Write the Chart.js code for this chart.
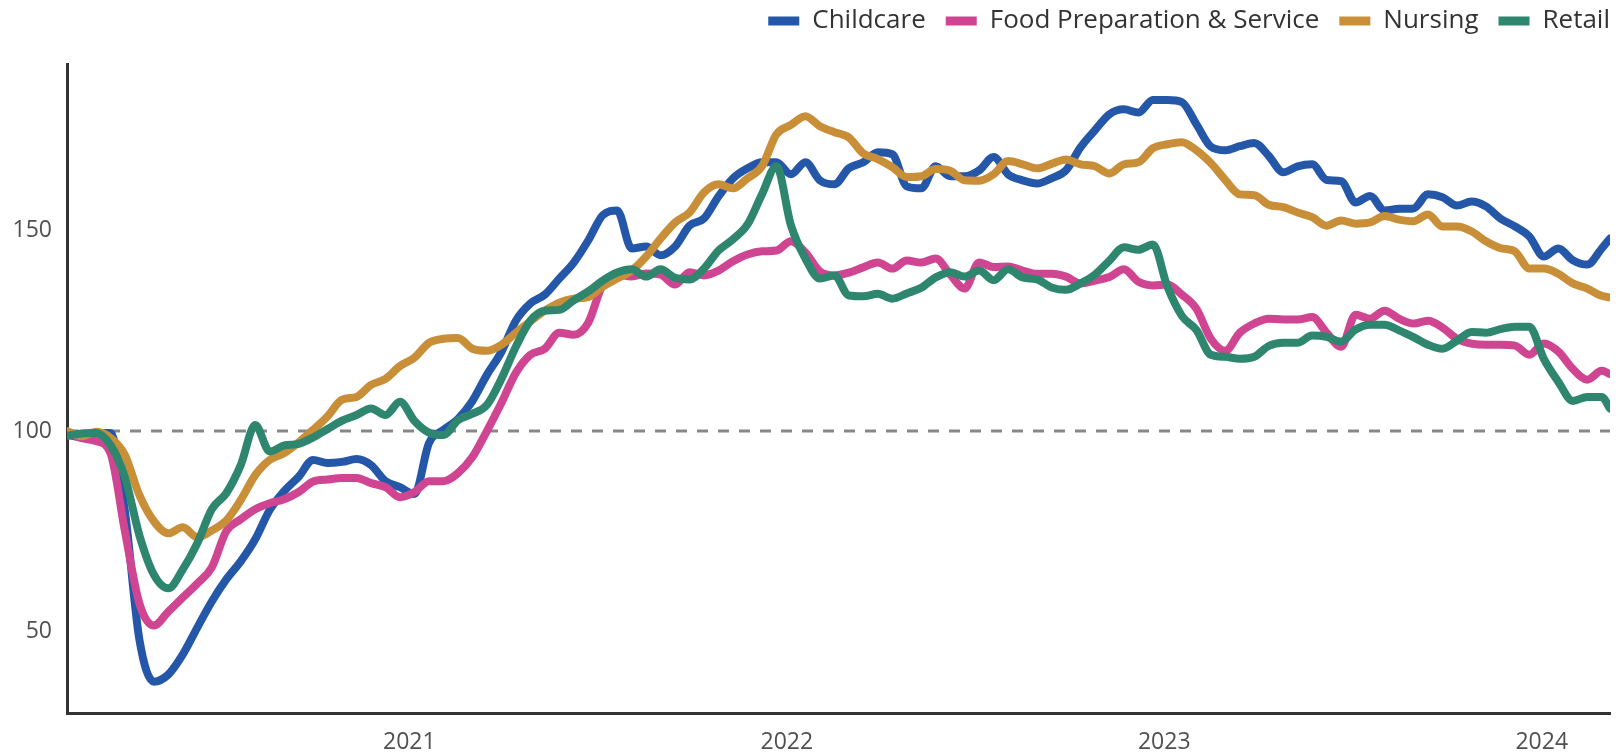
<!DOCTYPE html>
<html>
<head>
<meta charset="utf-8">
<script src="https://cdn.jsdelivr.net/npm/chart.js@4.4.1/dist/chart.umd.min.js"></script>
<style>
  html, body { margin: 0; padding: 0; background: #fff; }
  #wrap { width: 1616px; height: 754px; }
</style>
</head>
<body>
<div id="wrap"><canvas id="grafico" width="1616" height="754"></canvas></div>
<script>
// ---------------- DADOS ----------------
const dates = [
  "2020-02-05","2020-02-19","2020-03-04","2020-03-18","2020-04-01","2020-04-15","2020-04-29","2020-05-13","2020-05-27","2020-06-10",
  "2020-06-24","2020-07-08","2020-07-22","2020-08-05","2020-08-19","2020-09-02","2020-09-16","2020-09-30","2020-10-14","2020-10-28",
  "2020-11-11","2020-11-25","2020-12-09","2020-12-23","2021-01-06","2021-01-20","2021-02-03","2021-02-17","2021-03-03","2021-03-17",
  "2021-03-31","2021-04-14","2021-04-28","2021-05-12","2021-05-26","2021-06-09","2021-06-23","2021-07-07","2021-07-21","2021-08-04",
  "2021-08-18","2021-09-01","2021-09-15","2021-09-29","2021-10-13","2021-10-27","2021-11-10","2021-11-24","2021-12-08","2021-12-22",
  "2022-01-05","2022-01-19","2022-02-02","2022-02-16","2022-03-02","2022-03-16","2022-03-30","2022-04-13","2022-04-27","2022-05-11",
  "2022-05-25","2022-06-08","2022-06-22","2022-07-06","2022-07-20","2022-08-03","2022-08-17","2022-08-31","2022-09-14","2022-09-28",
  "2022-10-12","2022-10-26","2022-11-09","2022-11-23","2022-12-07","2022-12-21","2023-01-04","2023-01-18","2023-02-01","2023-02-15",
  "2023-03-01","2023-03-15","2023-03-29","2023-04-12","2023-04-26","2023-05-10","2023-05-24","2023-06-07","2023-06-21","2023-07-05",
  "2023-07-19","2023-08-02","2023-08-16","2023-08-30","2023-09-13","2023-09-27","2023-10-11","2023-10-25","2023-11-08","2023-11-22",
  "2023-12-06","2023-12-20","2024-01-03","2024-01-17","2024-01-31","2024-02-14","2024-02-28","2024-03-07"
];

const childcare = [
  99, 98.5, 99.5, 99.5, 80, 48, 37.5, 39.3, 44.3, 51,
  57.5, 63, 67.5, 73, 80.3, 85, 88.6, 92.8, 92, 92.3,
  93, 91.5, 87.5, 86, 84.3, 97, 100.3, 103, 107.5, 114,
  119.7, 127.5, 131.8, 134, 138, 142, 147.5, 153.8, 155, 145.5,
  146, 143.8, 146, 151.2, 153, 158.5, 163, 165.5, 167, 167,
  164, 167, 162.5, 161.5, 165.5, 167, 169.5, 169, 161, 160.5,
  166, 163.5, 163.5, 165, 168.3, 164, 162.5, 161.7, 163, 165,
  170.7, 175, 179, 180.2, 179.4, 182.5, 182.5, 182, 176.5, 170.9,
  170, 171, 171.8, 168.6, 164.5, 166, 166.5, 162.6, 162.3, 157,
  158.6, 155, 155.4, 155.5, 159, 158.3, 156.2, 157.2, 156, 153,
  151, 148.5, 143.5, 145.5, 142.6, 141.5, 145.5, 148
];

const foodPrep = [
  99.5, 98.2, 97.5, 94.5, 75, 57, 51.5, 55, 58.5, 62,
  66, 75, 78, 80.5, 82, 83, 84.8, 87.4, 87.9, 88.3,
  88.3, 87, 86, 83.5, 84.8, 87.5, 87.5, 89.5, 93.5, 100,
  107, 114.5, 119, 120.5, 124.5, 124, 127, 136.5, 139, 138.5,
  139.3, 139, 136.5, 139.6, 138.8, 140, 142.3, 144, 144.8, 145,
  147.3, 144.5, 139.8, 138.8, 139.5, 140.8, 142, 140.5, 142.5, 142,
  143, 139, 135.5, 142, 140.9, 141, 140, 139.2, 139.2, 138.5,
  136.8, 137.5, 138.4, 140.3, 137.2, 136.3, 136.5, 134, 130.5, 123,
  120, 124.5, 126.8, 128, 127.8, 127.8, 128.4, 124.5, 121, 129,
  128, 130, 128, 126.8, 127.5, 125.8, 123, 121.8, 121.5, 121.5,
  121.3, 119, 121.8, 119.8, 115.5, 112.8, 115, 114.2
];

const nursing = [
  100, 98.7, 99.8, 98.3, 94, 84, 77.5, 74.5, 76, 73.5,
  75.2, 77.7, 82.8, 89, 92.8, 94.5, 97.2, 100.3, 103.7, 107.8,
  108.5, 111.5, 113, 116.2, 118.3, 122, 123, 123.2, 120.5, 120,
  121.5, 124.5, 127.3, 130, 132, 133, 133.4, 136, 138, 140,
  143.5, 148, 152, 154.5, 159.5, 161.5, 160.5, 163, 166, 174,
  176.3, 178.5, 176, 174.5, 173.2, 169.2, 167.8, 165.8, 163.3, 163.5,
  165.3, 164.9, 162.5, 162.4, 164, 167.3, 166.5, 165.5, 166.6, 167.7,
  166.5, 166, 164.2, 166.5, 167, 170.5, 171.5, 172, 170, 166.8,
  162.6, 159, 158.8, 156.4, 155.8, 154.5, 153.3, 151.2, 152.5, 151.7,
  152, 153.6, 152.7, 152.3, 154, 151, 151, 149.8, 147.3, 145.6,
  144.8, 140.5, 140.5, 139.2, 136.8, 135.5, 133.7, 133.3
];

const retail = [
  98.8, 99.4, 99.5, 96.5, 88.5, 74, 64.2, 60.8, 65.5, 72,
  80.5, 84.5, 91.5, 101.5, 94.9, 96.4, 96.8, 98.4, 100.5, 102.6,
  104, 105.6, 104, 107.3, 102.5, 99.6, 99, 102.7, 104.3, 106.5,
  113, 121, 127.5, 130, 130.2, 132.6, 134.8, 137.5, 139.5, 140.3,
  138.5, 140.3, 138.2, 137.8, 140.5, 145, 147.8, 151.5, 159, 166,
  151.3, 143, 138, 138.8, 133.8, 133.6, 134.2, 133, 134.3, 135.7,
  138.3, 139.6, 138.5, 140, 137.6, 140.3, 138.3, 137.8, 135.8, 135.2,
  136.8, 139, 142.5, 145.8, 145.2, 146.5, 136, 128.7, 125.2, 119,
  118.5, 118, 118.5, 121.2, 122, 122, 123.8, 123.5, 122.3, 125.3,
  126.5, 126.5, 125.1, 123.4, 121.5, 120.5, 122.5, 124.7, 124.5, 125.4,
  126, 126, 118, 112.3, 107.5, 108.5, 108.5, 105.6
];

const seriesNames = ["Childcare", "Food Preparation & Service", "Nursing", "Retail"];
const seriesValues = [childcare, foodPrep, nursing, retail];
const seriesColors = ["#2557a9", "#cf4591", "#c98e38", "#2e866e"];
const yearTicks = [2021, 2022, 2023, 2024];
const yTicks = [50, 100, 150];
const baseline = 100;

// ---------------- DATAS -> DIAS ----------------
const DAY = 86400000;
const origem = Date.UTC(2020, 1, 1);
function toDay(s) {
  const [y, m, d] = s.split("-").map(Number);
  return (Date.UTC(y, m - 1, d) - origem) / DAY;
}
const xs = dates.map(toDay);

Chart.defaults.font.family = "'Open Sans', sans-serif";

const datasets = seriesNames.map((name, i) => ({
  label: name,
  data: xs.map((x, j) => ({ x, y: seriesValues[i][j] })),
  borderColor: seriesColors[i],
  backgroundColor: seriesColors[i],
  borderWidth: 8,
  pointRadius: 0,
  cubicInterpolationMode: "monotone",
  borderJoinStyle: "round",
  borderCapStyle: "round",
  fill: false,
  order: seriesNames.length - 1 - i   // Retail por cima, como no original
}));

// linha tracejada do 100
datasets.push({
  label: "base",
  data: [{ x: xs[0], y: baseline }, { x: xs[xs.length - 1], y: baseline }],
  borderColor: "#878787",
  borderWidth: 3,
  borderDash: [11, 10],
  pointRadius: 0,
  fill: false,
  order: 10
});

// ---------------- LEGENDA: posição ----------------
const ajusteLegenda = {
  id: "ajusteLegenda",
  afterLayout(chart) {
    const l = chart.legend;
    l.left += 20; l.right += 20;
    l.top -= 20; l.bottom -= 20;
  }
};

new Chart(document.getElementById("grafico"), {
  type: "line",
  data: { datasets },
  options: {
    responsive: false,
    animation: false,
    devicePixelRatio: 1,
    events: [],
    layout: { padding: { top: 8, right: 6, left: 0, bottom: 0 } },
    plugins: {
      tooltip: { enabled: false },
      legend: {
        position: "top",
        align: "end",
        labels: {
          color: "#333",
          font: { size: 26 },
          boxWidth: 31,
          boxHeight: 9,
          padding: 20,
          generateLabels: () => seriesNames.map((name, i) => ({
            text: name,
            fillStyle: seriesColors[i],
            strokeStyle: seriesColors[i],
            lineWidth: 0,
            fontColor: "#333",
            hidden: false,
            datasetIndex: i
          }))
        }
      }
    },
    scales: {
      x: {
        type: "linear",
        bounds: "data",
        min: xs[0],
        max: xs[xs.length - 1],
        grid: { display: false, drawTicks: false },
        border: { display: true, color: "#333", width: 3 },
        afterBuildTicks: (s) => {
          s.ticks = yearTicks.map(y => ({ value: (Date.UTC(y, 0, 1) - origem) / DAY }));
        },
        afterFit: (s) => { s.height = 41; },
        ticks: {
          autoSkip: false,
          maxRotation: 0,
          padding: 16,
          color: "#505050",
          font: { size: 23 },
          callback: (v) => String(new Date(origem + v * DAY).getUTCFullYear())
        }
      },
      y: {
        type: "linear",
        bounds: "data",
        min: 29.7,
        max: 191.5,
        grid: { display: false, drawTicks: false },
        border: { display: true, color: "#333", width: 3 },
        afterBuildTicks: (s) => { s.ticks = yTicks.map(v => ({ value: v })); },
        afterFit: (s) => { s.width = 67; },
        ticks: {
          padding: 15,
          color: "#505050",
          font: { size: 23 }
        }
      }
    }
  },
  plugins: [ajusteLegenda]
});
</script>
</body>
</html>
